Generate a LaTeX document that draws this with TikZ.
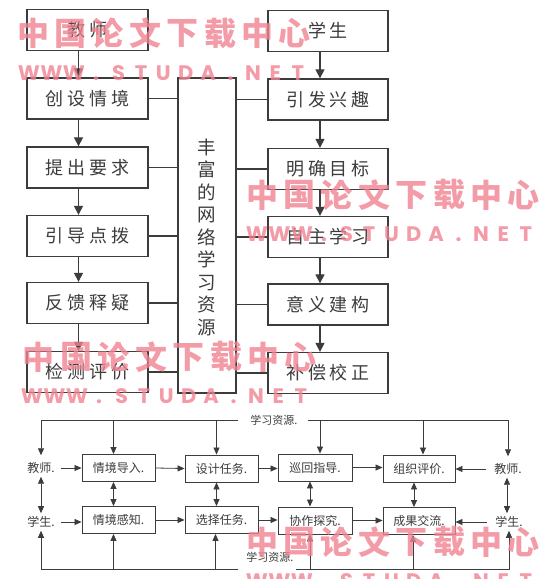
\documentclass[tikz,border=0pt]{standalone}
\usepackage{fontspec}
\setmainfont{Noto Sans CJK SC}
\newfontfamily\cjk{Noto Sans CJK SC}
\newfontfamily\bigcjk[LetterSpace=22]{Noto Sans CJK SC}
\newfontfamily\wmlat{Poppins}
\usetikzlibrary{arrows.meta,calc}
\definecolor{wmc}{RGB}{240,130,145}
\definecolor{ink}{RGB}{60,60,60}
\begin{document}
\begin{tikzpicture}[x=1pt,y=-1pt,
  box/.style={draw=ink, line width=1.3pt, minimum width=121pt, minimum height=41pt, inner sep=0pt,
    font=\bigcjk\fontsize{18}{18}\selectfont, text=ink},
  sbox/.style={draw=ink, line width=0.9pt, minimum width=73pt, minimum height=27pt, inner sep=0pt,
    font=\cjk\fontsize{12}{12}\selectfont, text=ink},
  lbl/.style={inner sep=0pt, font=\cjk\fontsize{12}{12}\selectfont, text=ink},
  rlbl/.style={inner sep=0pt, font=\cjk\fontsize{11}{11}\selectfont, text=ink},
  arr/.style={-{Triangle[length=9pt,width=9pt]}, line width=1.2pt, draw=ink},
  con/.style={line width=1.2pt, draw=ink},
  sline/.style={line width=0.8pt, draw=ink},
  sarr/.style={-{Triangle[length=7pt,width=6pt]}, line width=0.8pt, draw=ink},
  darr/.style={{Triangle[length=7pt,width=6pt]}-{Triangle[length=7pt,width=6pt]}, line width=0.8pt, draw=ink},
  wm/.style={inner sep=0pt, font=\cjk\bfseries\fontsize{32}{32}\selectfont, text=wmc, opacity=0.8},
  wml/.style={inner sep=0pt, anchor=base, font=\wmlat\bfseries\fontsize{21}{21}\selectfont, text=wmc, opacity=0.8}
]
\useasboundingbox (0,0) rectangle (549,579);
\fill[white] (0,0) rectangle (549,579);

% ---------- top part ----------
\node[box] (t)  at (87.5,30)   {教师};
\node[box] (l1) at (87.5,98.5) {创设情境};
\node[box] (l2) at (87.5,167.5){提出要求};
\node[box] (l3) at (87.5,236)  {引导点拨};
\node[box] (l4) at (87.5,303)  {反馈释疑};
\node[box] (l5) at (87.5,372)  {检测评价};

\node[box,minimum width=120pt] (s)  at (328,31)    {学生};
\node[box,minimum width=120pt] (r1) at (328,99.5)  {引发兴趣};
\node[box,minimum width=120pt] (r2) at (328,169)   {明确目标};
\node[box,minimum width=120pt] (r3) at (328,237)   {自主学习};
\node[box,minimum width=120pt] (r4) at (328,304.5) {意义建构};
\node[box,minimum width=120pt] (r5) at (328,373)   {补偿校正};

\node[draw=ink, line width=1.3pt, minimum width=58pt, minimum height=315pt, inner sep=0pt] (m) at (207,235.5) {};
\node[inner sep=0pt, align=center, text=ink, font=\cjk\fontsize{18.5}{22.5}\selectfont] (mt) at (207,237)
  {丰\\富\\的\\网\\络\\学\\习\\资\\源};

\draw[arr] ([xshift=-9pt]t.south)  -- ([xshift=-9pt]l1.north);
\draw[arr] ([xshift=-9pt]l1.south) -- ([xshift=-9pt]l2.north);
\draw[arr] ([xshift=-9pt]l2.south) -- ([xshift=-9pt]l3.north);
\draw[arr] ([xshift=-9pt]l3.south) -- ([xshift=-9pt]l4.north);
\draw[arr] ([xshift=-9pt]l4.south) -- ([xshift=-9pt]l5.north);
\draw[arr] ([xshift=-8pt]s.south)  -- ([xshift=-8pt]r1.north);
\draw[arr] ([xshift=-8pt]r1.south) -- ([xshift=-8pt]r2.north);
\draw[arr] ([xshift=-8pt]r2.south) -- ([xshift=-8pt]r3.north);
\draw[arr] ([xshift=-8pt]r3.south) -- ([xshift=-8pt]r4.north);
\draw[arr] ([xshift=-8pt]r4.south) -- ([xshift=-8pt]r5.north);

\foreach \n in {l1,l2,l3,l4,l5} \draw[con] (\n.east) -- (\n.east -| m.west);
\foreach \n in {r1,r2,r3,r4,r5} \draw[con] (\n.west -| m.east) -- (\n.west);

% ---------- bottom part ----------
\node[sbox] (b1) at (118.5,468) {情境导入.};
\node[sbox] (b2) at (221.5,468.5) {设计任务.};
\node[sbox,minimum width=74pt] (b3) at (315,467.5) {巡回指导.};
\node[sbox,minimum width=72pt] (b4) at (419,468.5) {组织评价.};
\node[sbox] (c1) at (118.5,520) {情境感知.};
\node[sbox] (c2) at (221.5,520) {选择任务.};
\node[sbox,minimum width=74pt] (c3) at (315,520.5) {协作探究.};
\node[sbox,minimum width=72pt] (c4) at (419,521) {成果交流.};

\node[lbl] (tl) at (41,468) {教师.};
\node[lbl] (bl) at (41,522) {学生.};
\node[lbl] (tr) at (508,469) {教师.};
\node[lbl] (br) at (509,522) {学生.};

\node[rlbl] (rs1) at (274,420) {学习资源.};
\node[rlbl] (rs2) at (270,557) {学习资源.};

\coordinate (tlL) at (41,421);
\coordinate (blL) at (41,569);

% top resource line
\draw[sarr,shorten >=7pt] ([xshift=-12pt]rs1.west) -| (tl.north);
\draw[sarr,shorten >=7pt] ([xshift=10pt]rs1.east) -| (tr.north);
\draw[sarr] ([xshift=-5pt]b1.north |- tlL) -- ([xshift=-5pt]b1.north);
\draw[sarr] ([xshift=-5pt]b2.north |- tlL) -- ([xshift=-5pt]b2.north);
\draw[sarr] ([xshift=5pt]b3.north |- tlL) -- ([xshift=5pt]b3.north);
\draw[sarr] ([xshift=4pt]b4.north |- tlL) -- ([xshift=4pt]b4.north);

% bottom resource line
\draw[sarr,shorten >=3pt] ([xshift=-8pt]rs2.west |- blL) -| (bl.south);
\draw[sarr,shorten >=3pt] ([xshift=2pt]rs2.east |- blL) -| (br.south);
\draw[sarr] ([xshift=-5pt]c1.south |- blL) -- ([xshift=-5pt]c1.south);
\draw[sarr] ([xshift=-6pt]c2.south |- blL) -- ([xshift=-6pt]c2.south);
\draw[sarr] ([xshift=-5pt]c3.south |- blL) -- ([xshift=-5pt]c3.south);
\draw[sarr] ([xshift=-6pt]c4.south |- blL) -- ([xshift=-6pt]c4.south);

% horizontal flows
\draw[sarr,shorten <=6pt] (tl.east) -- (b1.west);
\draw[sarr] (b1.east) -- (b2.west);
\draw[sarr] (b2.east |- b2.west) -- (b3.west |- b2.west);
\draw[sarr] (b3.east) -- (b4.west |- b3.east);
\draw[sarr,shorten <=8pt] (tr.west) -- (b4.east |- tr.west);
\draw[sarr,shorten <=6pt] (bl.east) -- (c1.west |- bl.east);
\draw[sarr] (c1.east) -- (c2.west);
\draw[sarr] (c2.east) -- (c3.west |- c2.east);
\draw[sarr] (c3.east) -- (c4.west |- c3.east);
\draw[sarr,shorten <=8pt] (br.west) -- (c4.east |- br.west);

% vertical double arrows
\draw[darr] ([xshift=-5pt]b1.south) -- ([xshift=-5pt]c1.north);
\draw[darr] ([xshift=-5pt]b2.south) -- ([xshift=-5pt]c2.north);
\draw[darr] ([xshift=-5pt]b3.south) -- ([xshift=-5pt]c3.north);
\draw[darr] ([xshift=-5pt]b4.south) -- ([xshift=-5pt]c4.north);
\draw[darr,shorten <=3pt,shorten >=3pt] (tl.south) -- (bl.north);
\draw[darr,shorten <=3pt,shorten >=3pt] ([xshift=-1pt]tr.south) -- ([xshift=-1pt]tr.south |- br.north);

% ---------- watermarks ----------
\foreach \wx/\wy/\lx in {18/33.5/17, 247/195/245, 24/357/20, 247/542/245} {
  \foreach \c [count=\i from 0] in {中,国,论,文,下,载,中,心}
    \node[wm] at (\wx+15+\i*37.4, \wy) {\c};
  \foreach \c [count=\i from 0] in {W,W,W,.,S,T,U,D,A,.,N,E,T}
    \node[wml] at (\lx+12+\i*22.4, \wy+46.5) {\c};
}
\end{tikzpicture}
\end{document}
